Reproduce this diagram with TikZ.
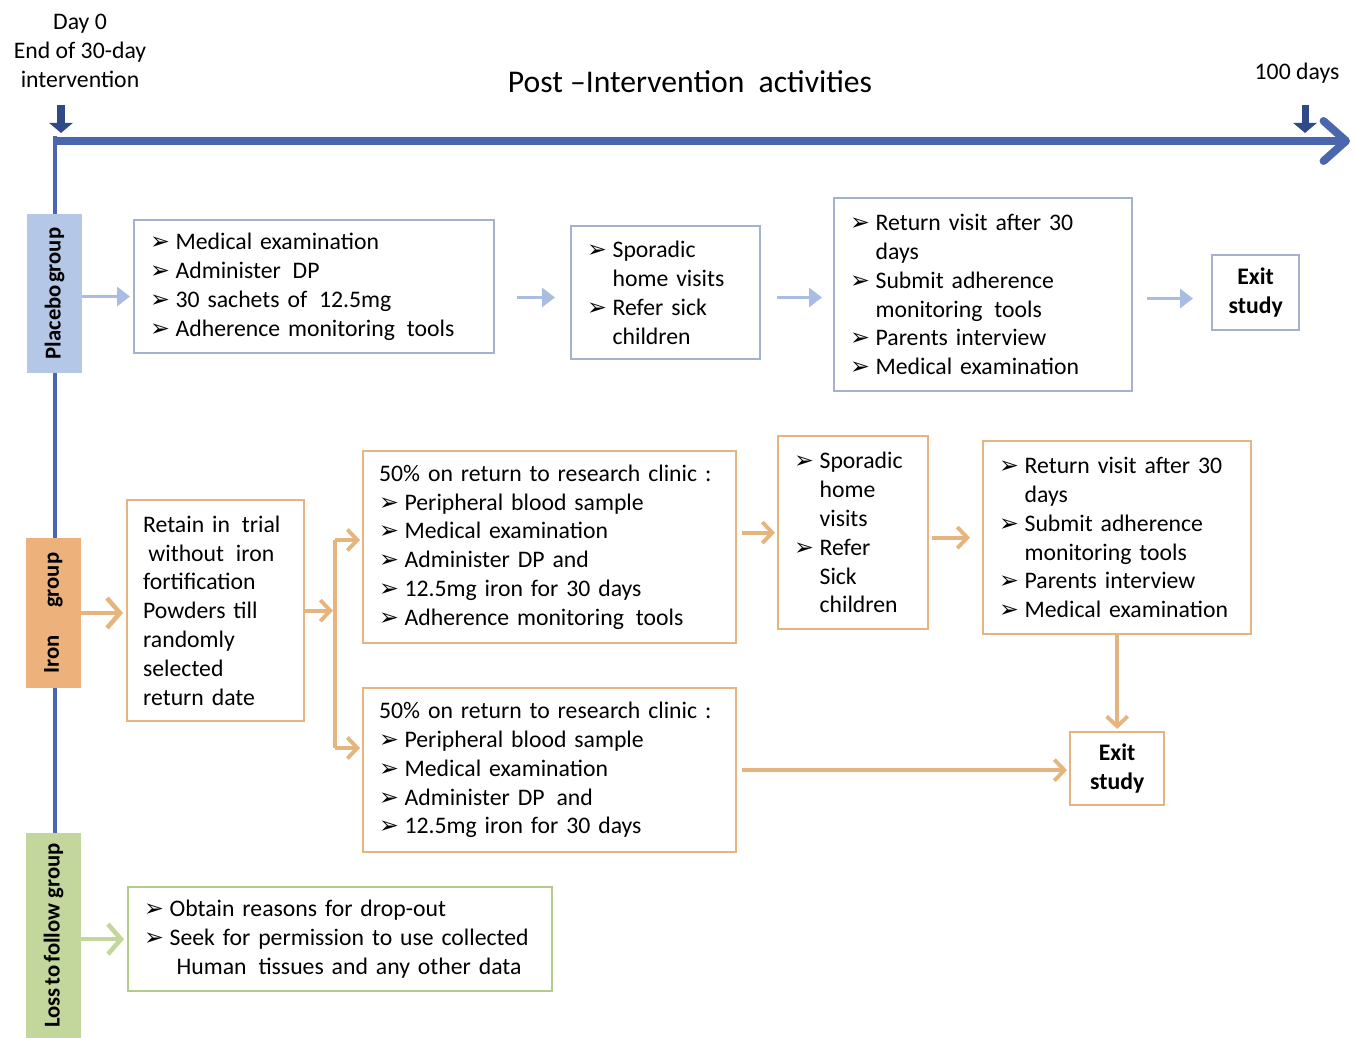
\documentclass[tikz,border=0pt]{standalone}
\usepackage{fontspec}
\setmainfont{Carlito}
\newfontfamily\symf{DejaVu Sans}
\usetikzlibrary{arrows.meta,calc,positioning}
\definecolor{TimeBlue}{HTML}{4A67AE}
\definecolor{DayBlue}{HTML}{2F4A86}
\definecolor{PlaceboFill}{HTML}{B4C7E7}
\definecolor{PlaceboLine}{HTML}{A4B2CF}
\definecolor{PlaceboArrow}{HTML}{A9BDE2}
\definecolor{IronFill}{HTML}{EDB27C}
\definecolor{IronLine}{HTML}{E6B47F}
\definecolor{LossFill}{HTML}{C3D69B}
\definecolor{LossLine}{HTML}{B5CB8C}
\newcommand\bodyfont{\fontsize{13.5}{16.4}\selectfont}
\newcommand\bl{\makebox[14.5pt][l]{\symf\fontsize{13.5}{13.5}\selectfont ➢}}
\newcommand\ct{\hspace*{14.5pt}}
\tikzset{
  box/.style={
    draw, line width=1.3pt, fill=white, anchor=north west,
    inner xsep=0.32cm, inner ysep=0.1cm, align=left, font=\bodyfont
  },
  pbox/.style={box, draw=PlaceboLine},
  ibox/.style={box, draw=IronLine},
  lbox/.style={box, draw=LossLine},
  exitbox/.style={
    draw, line width=1.3pt, fill=white, anchor=north west, align=center,
    inner sep=0pt, font=\bodyfont\bfseries
  },
  grp/.style={
    rotate=90, minimum height=1.1cm, inner sep=0pt,
    font=\fontsize{12.9}{14}\selectfont\bfseries
  },
  barrow/.style={draw=PlaceboArrow, line width=2.2pt, -{Triangle[length=0.26cm,width=0.38cm]}},
  iarrow/.style={draw=IronLine, line width=2.2pt, -{Straight Barb[length=0.2cm,width=0.42cm]}},
  garrow/.style={line width=2.6pt, -{Straight Barb[length=0.26cm,width=0.6cm]}},
  darrow/.style={draw=DayBlue, line width=4pt, -{Triangle[length=0.2cm,width=0.46cm]}}
}
\begin{document}
\begin{tikzpicture}
\useasboundingbox (0,0) rectangle (27.08,-20.76);
% timeline
\coordinate (t0) at (1.1,-2.72);
\coordinate (tb) at (1.1,-16.7);
\coordinate (ts) at (1.1,-2.82);
\coordinate (te) at (27.0,-2.82);
\draw[TimeBlue, line width=2.3pt] (t0) -- (tb);
\draw[TimeBlue, line width=4.5pt, -{Straight Barb[length=0.45cm,width=0.8cm,round]}] (ts) -- (te);
\node[align=center, font=\bodyfont] (day0) at (1.6,-1.02) {Day 0\\End of 30-day\\intervention};
\node[font=\fontsize{18}{20}\selectfont] (title) at (13.8,-1.64) {Post --Intervention~ activities};
\node[font=\bodyfont] (hundred) at (25.94,-1.46) {100 days};
\coordinate (d0a) at (1.22,-2.1);
\coordinate (d0b) at (1.22,-2.66);
\coordinate (dha) at (26.1,-2.1);
\coordinate (dhb) at (26.1,-2.66);
\draw[darrow] (d0a) -- (d0b);
\draw[darrow] (dha) -- (dhb);

% group labels
\node[grp, fill=PlaceboFill, minimum width=3.18cm] (plab) at (1.09,-5.87) {Placebo\hspace{0.1em}group};
\node[grp, fill=IronFill, minimum width=3.0cm] (ilab) at (1.07,-12.26) {Iron\hspace{1.2em}group};
\node[grp, fill=LossFill, minimum width=4.1cm] (llab) at (1.07,-18.71) {Loss\hspace{0.12em}to\hspace{0.12em}follow group};

% placebo row
\node[pbox, text width=6.56cm, minimum height=2.66cm] (pexam) at (2.66,-4.38)
  {\bl Medical examination\\\bl Administer\, DP\\\bl 30 sachets of\, 12.5mg\\\bl Adherence monitoring\, tools};
\node[pbox, text width=3.14cm, minimum height=2.66cm] (pvisit) at (11.4,-4.5)
  {\bl Sporadic\\\ct home visits\\\bl Refer sick\\\ct children};
\node[pbox, text width=5.32cm, minimum height=3.86cm] (preturn) at (16.66,-3.94)
  {\bl Return visit after 30\\\ct days\\\bl Submit adherence\\\ct monitoring\, tools\\\bl Parents interview\\\bl Medical examination};
\node[exitbox, draw=PlaceboLine, minimum width=1.74cm, minimum height=1.5cm] (pexit) at (24.22,-5.08) {Exit\\study};
\draw[barrow, shorten >=0.06cm] ([yshift=-0.06cm]plab.south) -- ([yshift=-0.06cm]plab.south -| pexam.west);
\draw[barrow, shorten <=0.44cm, shorten >=0.3cm] ([yshift=-0.08cm]plab.south -| pexam.east) -- ([yshift=-0.08cm]plab.south -| pvisit.west);
\draw[barrow, shorten <=0.32cm, shorten >=0.22cm] ([yshift=-0.08cm]plab.south -| pvisit.east) -- ([yshift=-0.08cm]plab.south -| preturn.west);
\draw[barrow, shorten <=0.28cm, shorten >=0.36cm] ([yshift=-0.1cm]plab.south -| preturn.east) -- ([yshift=-0.1cm]plab.south -| pexit.west);

% iron row
\node[ibox, text width=2.9cm, minimum height=4.42cm] (iretain) at (2.52,-9.98)
  {Retain in\, trial\\\hspace*{3pt}without\, iron\\fortification\\Powders till\\randomly\\selected\\return date};
\node[ibox, text width=6.82cm, minimum height=3.84cm] (iclinic) at (7.24,-9.0)
  {50\% on return to research clinic :\\\bl Peripheral blood sample\\\bl Medical examination\\\bl Administer DP and\\\bl 12.5mg iron for 30 days\\\bl Adherence monitoring\, tools};
\node[ibox, text width=2.36cm, minimum height=3.86cm] (ivisit) at (15.54,-8.7)
  {\bl Sporadic\\\ct home\\\ct visits\\\bl Refer\\\ct Sick\\\ct children};
\node[ibox, text width=4.72cm, minimum height=3.86cm] (ireturn) at (19.64,-8.8)
  {\bl Return visit after 30\\\ct days\\\bl Submit adherence\\\ct monitoring tools\\\bl Parents interview\\\bl Medical examination};
\node[ibox, text width=6.82cm, minimum height=3.28cm] (iclinicb) at (7.24,-13.74)
  {50\% on return to research clinic :\\\bl Peripheral blood sample\\\bl Medical examination\\\bl Administer DP\, and\\\bl 12.5mg iron for 30 days};
\node[exitbox, draw=IronLine, minimum width=1.88cm, minimum height=1.46cm] (iexit) at (21.38,-14.62) {Exit\\study};
\coordinate (bt) at (6.7,-10.8);
\coordinate (bb) at (6.7,-14.96);
\draw[garrow, draw=IronLine, shorten >=0.06cm] (ilab.south) -- (ilab.south -| iretain.west);
\draw[iarrow, shorten >=0.04cm] (iretain.east) -- (iretain.east -| bt);
\draw[IronLine, line width=2.2pt] (bt) -- (bb);
\draw[iarrow, shorten >=0.04cm] (bt) -- (bt -| iclinic.west);
\draw[iarrow, shorten >=0.04cm] (bb) -- (bb -| iclinicb.west);
\draw[iarrow, shorten <=0.1cm, shorten >=0.04cm] (iclinic.east |- ivisit.west) -- (ivisit.west);
\draw[iarrow, shorten <=0.06cm, shorten >=0.24cm] (ivisit.east |- ireturn.west) -- (ireturn.west);
\draw[iarrow, shorten >=0.04cm] (ireturn.south) -- (ireturn.south |- iexit.north);
\draw[iarrow, shorten <=0.1cm, shorten >=0.04cm] (iclinicb.east) -- (iclinicb.east -| iexit.west);

% loss to follow row
\node[lbox, text width=7.84cm, minimum height=2.08cm] (ldrop) at (2.54,-17.72)
  {\bl Obtain reasons for drop-out\\\bl Seek for permission to use collected\\\ct\hspace*{4pt}Human\, tissues and any other data};
\draw[garrow, draw=LossFill, shorten >=0.06cm] (llab.south |- ldrop.west) -- (ldrop.west);
\end{tikzpicture}
\end{document}
